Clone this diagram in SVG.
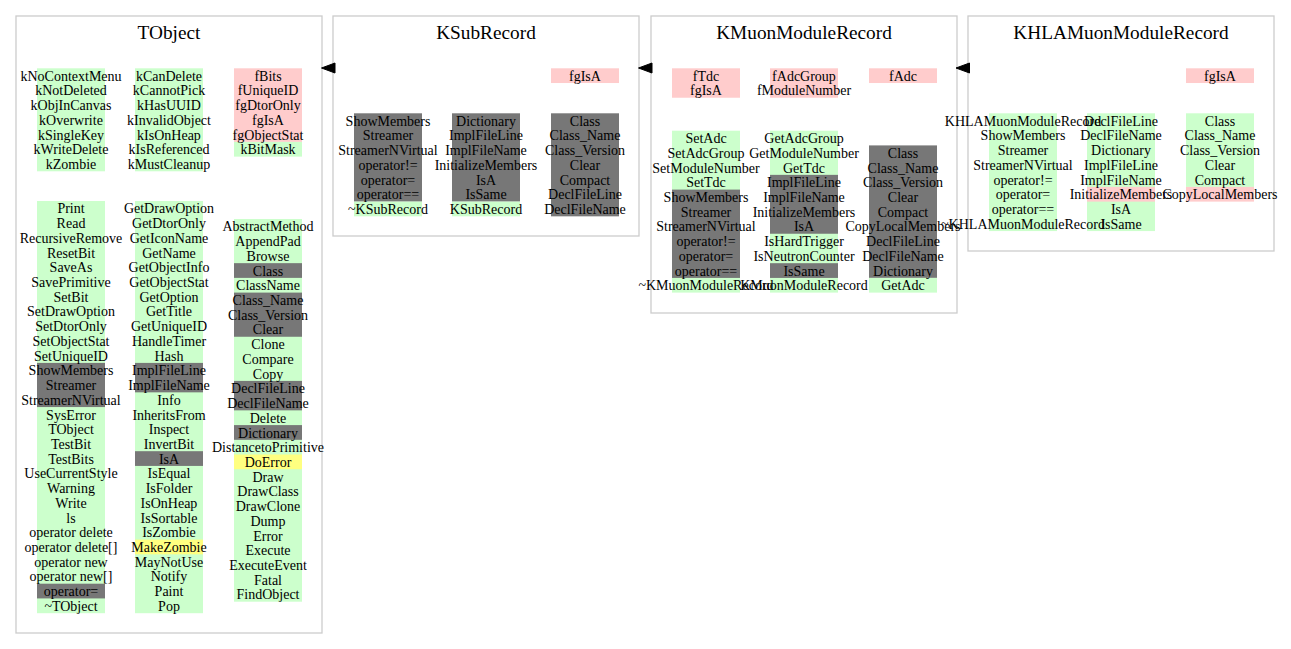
<svg xmlns="http://www.w3.org/2000/svg" width="1291" height="649" viewBox="0 0 1291 649">
<style>
.cl{fill:none;stroke:#cccccc;stroke-width:1.3}
.g{fill:#ccffcc}
.r{fill:#ffcccc}
.k{fill:#777777}
.y{fill:#ffff80}
text{font-family:"Liberation Serif","Times New Roman",serif;fill:#000;text-anchor:middle}
.ti{font-size:19.3px}
.t{font-size:14px}
.ar{fill:#000;stroke:#000;stroke-width:1}
</style>
<rect width="1291" height="649" fill="#fff"/>

<g id="TObject">
<rect class="cl" x="16" y="16" width="306" height="617"/>
<text class="ti" x="169" y="38.5">TObject</text>
<rect class="g" x="37" y="68.3" width="68" height="103"/>
<rect class="g" x="135" y="68.3" width="68" height="103"/>
<rect class="r" x="234" y="68.3" width="68" height="73.6"/>
<rect class="g" x="234" y="141.9" width="68" height="14.72"/>
<g class="t" transform="translate(0,0.9)">
<text x="71" y="79.9">kNoContextMenu</text>
<text x="71" y="94.6">kNotDeleted</text>
<text x="71" y="109.3">kObjInCanvas</text>
<text x="71" y="124.1">kOverwrite</text>
<text x="71" y="138.8">kSingleKey</text>
<text x="71" y="153.5">kWriteDelete</text>
<text x="71" y="168.2">kZombie</text>
<text x="169" y="79.9">kCanDelete</text>
<text x="169" y="94.6">kCannotPick</text>
<text x="169" y="109.3">kHasUUID</text>
<text x="169" y="124.1">kInvalidObject</text>
<text x="169" y="138.8">kIsOnHeap</text>
<text x="169" y="153.5">kIsReferenced</text>
<text x="169" y="168.2">kMustCleanup</text>
<text x="268" y="79.9">fBits</text>
<text x="268" y="94.6">fUniqueID</text>
<text x="268" y="109.3">fgDtorOnly</text>
<text x="268" y="124.1">fgIsA</text>
<text x="268" y="138.8">fgObjectStat</text>
<text x="268" y="153.5">kBitMask</text>
</g>
<rect class="g" x="37" y="201" width="68" height="412.2"/>
<rect class="k" x="37" y="362.9" width="68" height="44.16"/>
<rect class="k" x="37" y="583.7" width="68" height="14.72"/>
<rect class="g" x="135" y="201" width="68" height="412.2"/>
<rect class="k" x="135" y="362.9" width="68" height="29.44"/>
<rect class="k" x="135" y="451.2" width="68" height="14.72"/>
<rect class="y" x="135" y="539.6" width="68" height="14.72"/>
<rect class="g" x="234" y="219" width="68" height="382.7"/>
<rect class="k" x="234" y="263.16" width="68" height="14.72"/>
<rect class="k" x="234" y="292.6" width="68" height="44.16"/>
<rect class="k" x="234" y="380.9" width="68" height="29.44"/>
<rect class="k" x="234" y="425.1" width="68" height="14.72"/>
<rect class="y" x="234" y="454.5" width="68" height="14.72"/>
<g class="t" transform="translate(0,0.9)">
<text x="71" y="212.6">Print</text>
<text x="71" y="227.3">Read</text>
<text x="71" y="242.0">RecursiveRemove</text>
<text x="71" y="256.8">ResetBit</text>
<text x="71" y="271.5">SaveAs</text>
<text x="71" y="286.2">SavePrimitive</text>
<text x="71" y="300.9">SetBit</text>
<text x="71" y="315.6">SetDrawOption</text>
<text x="71" y="330.4">SetDtorOnly</text>
<text x="71" y="345.1">SetObjectStat</text>
<text x="71" y="359.8">SetUniqueID</text>
<text x="71" y="374.5">ShowMembers</text>
<text x="71" y="389.2">Streamer</text>
<text x="71" y="404.0">StreamerNVirtual</text>
<text x="71" y="418.7">SysError</text>
<text x="71" y="433.4">TObject</text>
<text x="71" y="448.1">TestBit</text>
<text x="71" y="462.8">TestBits</text>
<text x="71" y="477.6">UseCurrentStyle</text>
<text x="71" y="492.3">Warning</text>
<text x="71" y="507.0">Write</text>
<text x="71" y="521.7">ls</text>
<text x="71" y="536.4">operator delete</text>
<text x="71" y="551.2">operator delete[]</text>
<text x="71" y="565.9">operator new</text>
<text x="71" y="580.6">operator new[]</text>
<text x="71" y="595.3">operator=</text>
<text x="71" y="610.0">~TObject</text>
<text x="169" y="212.6">GetDrawOption</text>
<text x="169" y="227.3">GetDtorOnly</text>
<text x="169" y="242.0">GetIconName</text>
<text x="169" y="256.8">GetName</text>
<text x="169" y="271.5">GetObjectInfo</text>
<text x="169" y="286.2">GetObjectStat</text>
<text x="169" y="300.9">GetOption</text>
<text x="169" y="315.6">GetTitle</text>
<text x="169" y="330.4">GetUniqueID</text>
<text x="169" y="345.1">HandleTimer</text>
<text x="169" y="359.8">Hash</text>
<text x="169" y="374.5">ImplFileLine</text>
<text x="169" y="389.2">ImplFileName</text>
<text x="169" y="404.0">Info</text>
<text x="169" y="418.7">InheritsFrom</text>
<text x="169" y="433.4">Inspect</text>
<text x="169" y="448.1">InvertBit</text>
<text x="169" y="462.8">IsA</text>
<text x="169" y="477.6">IsEqual</text>
<text x="169" y="492.3">IsFolder</text>
<text x="169" y="507.0">IsOnHeap</text>
<text x="169" y="521.7">IsSortable</text>
<text x="169" y="536.4">IsZombie</text>
<text x="169" y="551.2">MakeZombie</text>
<text x="169" y="565.9">MayNotUse</text>
<text x="169" y="580.6">Notify</text>
<text x="169" y="595.3">Paint</text>
<text x="169" y="610.0">Pop</text>
<text x="268" y="230.6">AbstractMethod</text>
<text x="268" y="245.3">AppendPad</text>
<text x="268" y="260.0">Browse</text>
<text x="268" y="274.8">Class</text>
<text x="268" y="289.5">ClassName</text>
<text x="268" y="304.2">Class_Name</text>
<text x="268" y="318.9">Class_Version</text>
<text x="268" y="333.6">Clear</text>
<text x="268" y="348.4">Clone</text>
<text x="268" y="363.1">Compare</text>
<text x="268" y="377.8">Copy</text>
<text x="268" y="392.5">DeclFileLine</text>
<text x="268" y="407.2">DeclFileName</text>
<text x="268" y="422.0">Delete</text>
<text x="268" y="436.7">Dictionary</text>
<text x="268" y="451.4">DistancetoPrimitive</text>
<text x="268" y="466.1">DoError</text>
<text x="268" y="480.8">Draw</text>
<text x="268" y="495.6">DrawClass</text>
<text x="268" y="510.3">DrawClone</text>
<text x="268" y="525.0">Dump</text>
<text x="268" y="539.7">Error</text>
<text x="268" y="554.4">Execute</text>
<text x="268" y="569.2">ExecuteEvent</text>
<text x="268" y="583.9">Fatal</text>
<text x="268" y="598.6">FindObject</text>
</g>
</g>

<g id="KSubRecord">
<rect class="cl" x="333" y="16" width="306" height="220"/>
<text class="ti" x="486" y="38.5">KSubRecord</text>
<rect class="r" x="551" y="68.3" width="68" height="14.72"/>
<rect class="k" x="354" y="113.3" width="68" height="88.32"/>
<rect class="g" x="354" y="201.6" width="68" height="14.72"/>
<rect class="k" x="452" y="113.3" width="68" height="88.32"/>
<rect class="g" x="452" y="201.6" width="68" height="14.72"/>
<rect class="k" x="551" y="113.3" width="68" height="103.04"/>
<g class="t" transform="translate(0,0.9)">
<text x="585" y="79.9">fgIsA</text>
<text x="388" y="124.9">ShowMembers</text>
<text x="388" y="139.6">Streamer</text>
<text x="388" y="154.3">StreamerNVirtual</text>
<text x="388" y="169.1">operator!=</text>
<text x="388" y="183.8">operator=</text>
<text x="388" y="198.5">operator==</text>
<text x="388" y="213.2">~KSubRecord</text>
<text x="486" y="124.9">Dictionary</text>
<text x="486" y="139.6">ImplFileLine</text>
<text x="486" y="154.3">ImplFileName</text>
<text x="486" y="169.1">InitializeMembers</text>
<text x="486" y="183.8">IsA</text>
<text x="486" y="198.5">IsSame</text>
<text x="486" y="213.2">KSubRecord</text>
<text x="585" y="124.9">Class</text>
<text x="585" y="139.6">Class_Name</text>
<text x="585" y="154.3">Class_Version</text>
<text x="585" y="169.1">Clear</text>
<text x="585" y="183.8">Compact</text>
<text x="585" y="198.5">DeclFileLine</text>
<text x="585" y="213.2">DeclFileName</text>
</g>
</g>

<g id="KMuonModuleRecord">
<rect class="cl" x="651" y="16" width="306" height="297"/>
<text class="ti" x="804" y="38.5">KMuonModuleRecord</text>
<rect class="r" x="672" y="68.3" width="68" height="29.44"/>
<rect class="r" x="770" y="68.3" width="68" height="29.44"/>
<rect class="r" x="869" y="68.3" width="68" height="14.72"/>
<rect class="g" x="672" y="130.7" width="68" height="161.9"/>
<rect class="k" x="672" y="189.6" width="68" height="88.32"/>
<rect class="g" x="770" y="130.7" width="68" height="161.9"/>
<rect class="k" x="770" y="174.86" width="68" height="58.88"/>
<rect class="k" x="770" y="263.2" width="68" height="14.72"/>
<rect class="k" x="869" y="145.4" width="68" height="132.5"/>
<rect class="g" x="869" y="277.9" width="68" height="14.72"/>
<g class="t" transform="translate(0,0.9)">
<text x="706" y="79.9">fTdc</text>
<text x="706" y="94.6">fgIsA</text>
<text x="804" y="79.9">fAdcGroup</text>
<text x="804" y="94.6">fModuleNumber</text>
<text x="903" y="79.9">fAdc</text>
<text x="706" y="142.3">SetAdc</text>
<text x="706" y="157.0">SetAdcGroup</text>
<text x="706" y="171.7">SetModuleNumber</text>
<text x="706" y="186.5">SetTdc</text>
<text x="706" y="201.2">ShowMembers</text>
<text x="706" y="215.9">Streamer</text>
<text x="706" y="230.6">StreamerNVirtual</text>
<text x="706" y="245.3">operator!=</text>
<text x="706" y="260.1">operator=</text>
<text x="706" y="274.8">operator==</text>
<text x="706" y="289.5">~KMuonModuleRecord</text>
<text x="804" y="142.3">GetAdcGroup</text>
<text x="804" y="157.0">GetModuleNumber</text>
<text x="804" y="171.7">GetTdc</text>
<text x="804" y="186.5">ImplFileLine</text>
<text x="804" y="201.2">ImplFileName</text>
<text x="804" y="215.9">InitializeMembers</text>
<text x="804" y="230.6">IsA</text>
<text x="804" y="245.3">IsHardTrigger</text>
<text x="804" y="260.1">IsNeutronCounter</text>
<text x="804" y="274.8">IsSame</text>
<text x="804" y="289.5">KMuonModuleRecord</text>
<text x="903" y="157.0">Class</text>
<text x="903" y="171.7">Class_Name</text>
<text x="903" y="186.5">Class_Version</text>
<text x="903" y="201.2">Clear</text>
<text x="903" y="215.9">Compact</text>
<text x="903" y="230.6">CopyLocalMembers</text>
<text x="903" y="245.3">DeclFileLine</text>
<text x="903" y="260.1">DeclFileName</text>
<text x="903" y="274.8">Dictionary</text>
<text x="903" y="289.5">GetAdc</text>
</g>
</g>

<g id="KHLAMuonModuleRecord">
<rect class="cl" x="968" y="16" width="306" height="235"/>
<text class="ti" x="1121" y="38.5">KHLAMuonModuleRecord</text>
<rect class="r" x="1186" y="68.3" width="68" height="14.72"/>
<rect class="g" x="989" y="113.3" width="68" height="117.76"/>
<rect class="g" x="1087" y="113.3" width="68" height="117.76"/>
<rect class="r" x="1087" y="186.9" width="68" height="14.72"/>
<rect class="g" x="1186" y="113.3" width="68" height="73.6"/>
<rect class="r" x="1186" y="186.9" width="68" height="14.72"/>
<g class="t" transform="translate(0,0.9)">
<text x="1220" y="79.9">fgIsA</text>
<text x="1023" y="124.9">KHLAMuonModuleRecord</text>
<text x="1023" y="139.6">ShowMembers</text>
<text x="1023" y="154.3">Streamer</text>
<text x="1023" y="169.1">StreamerNVirtual</text>
<text x="1023" y="183.8">operator!=</text>
<text x="1023" y="198.5">operator=</text>
<text x="1023" y="213.2">operator==</text>
<text x="1023" y="228.0">~KHLAMuonModuleRecord</text>
<text x="1121" y="124.9">DeclFileLine</text>
<text x="1121" y="139.6">DeclFileName</text>
<text x="1121" y="154.3">Dictionary</text>
<text x="1121" y="169.1">ImplFileLine</text>
<text x="1121" y="183.8">ImplFileName</text>
<text x="1121" y="198.5">InitializeMembers</text>
<text x="1121" y="213.2">IsA</text>
<text x="1121" y="228.0">IsSame</text>
<text x="1220" y="124.9">Class</text>
<text x="1220" y="139.6">Class_Name</text>
<text x="1220" y="154.3">Class_Version</text>
<text x="1220" y="169.1">Clear</text>
<text x="1220" y="183.8">Compact</text>
<text x="1220" y="198.5">CopyLocalMembers</text>
</g>
</g>

<g id="connectors">
<polygon class="ar" points="321.5,68 335,63 335,73"/>
<polygon class="ar" points="638.5,68 652,63 652,73"/>
<polygon class="ar" points="956,68 969.5,63 969.5,73"/>
</g>
</svg>
